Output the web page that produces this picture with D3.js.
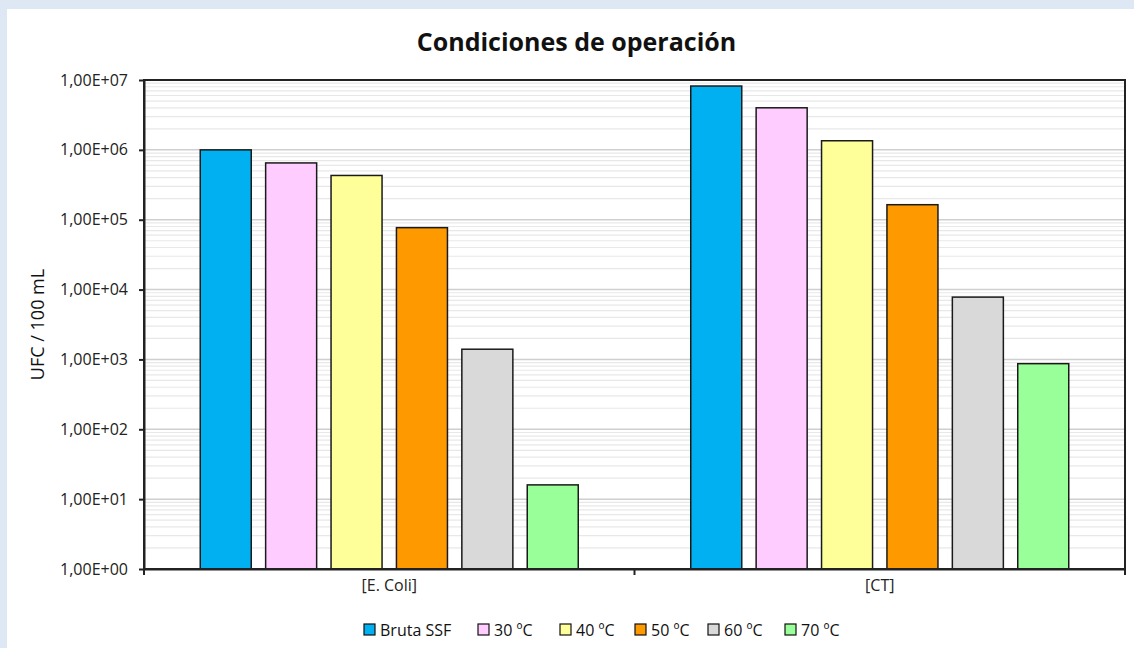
<!DOCTYPE html>
<html>
<head>
<meta charset="utf-8">
<script src="https://cdn.jsdelivr.net/npm/d3@7"></script>
<style>
  body { margin: 0; background: #dde8f4; }
  svg { display: block; font-family: "Open Sans", "DejaVu Sans", sans-serif; }
</style>
</head>
<body>
<div id="chart"></div>
<script>
// data
var categories = ["[E. Coli]", "[CT]"];
var series = ["Bruta SSF", "30 ºC", "40 ºC", "50 ºC", "60 ºC", "70 ºC"];
var colors = ["#00b0f0", "#ffccff", "#ffff99", "#ff9900", "#d9d9d9", "#99ff99"];
var ecoli = [1.0e6, 6.5e5, 4.3e5, 7.7e4, 1.4e3, 16];
var ct = [8.2e6, 4.0e6, 1.35e6, 1.64e5, 7.8e3, 870];
var values = [ecoli, ct];
var yTicks = [1, 1e1, 1e2, 1e3, 1e4, 1e5, 1e6, 1e7];

var W = 1134, H = 648;
var m = { left: 144, top: 80, right: 1125, bottom: 569 };

var svg = d3.select("#chart").append("svg")
  .attr("width", W)
  .attr("height", H);

// white panel
svg.append("rect")
  .attr("x", 7).attr("y", 9)
  .attr("width", W - 7).attr("height", H - 9)
  .attr("fill", "#fff");

var x0 = d3.scaleBand().domain(categories).range([m.left, m.right]);
var x1 = d3.scaleBand().domain(series)
  .range([0, x0.bandwidth()])
  .paddingInner(0.22).paddingOuter(0.86);
var y = d3.scaleLog().domain([1, 1e7]).range([m.bottom, m.top]);

// minor grid
var minor = [];
for (var d = 0; d < 7; d++) {
  for (var k = 2; k <= 9; k++) minor.push(k * Math.pow(10, d));
}
svg.append("g").selectAll("line").data(minor).join("line")
  .attr("x1", m.left).attr("x2", m.right)
  .attr("y1", function(v) { return y(v); })
  .attr("y2", function(v) { return y(v); })
  .attr("stroke", "#e8e8e8").attr("stroke-width", 1.2);

svg.append("g").selectAll("line").data(yTicks.slice(1, -1)).join("line")
  .attr("x1", m.left).attr("x2", m.right)
  .attr("y1", function(v) { return y(v); })
  .attr("y2", function(v) { return y(v); })
  .attr("stroke", "#cfcfcf").attr("stroke-width", 1.5);

// bars
var groups = svg.append("g").selectAll("g").data(categories).join("g")
  .attr("transform", function(c) { return "translate(" + x0(c) + ",0)"; });

groups.selectAll("rect")
  .data(function(c, i) { return values[i].map(function(v, j) { return { s: series[j], v: v, c: colors[j] }; }); })
  .join("rect")
  .attr("x", function(d) { return x1(d.s); })
  .attr("width", x1.bandwidth())
  .attr("y", function(d) { return y(d.v); })
  .attr("height", function(d) { return m.bottom - y(d.v); })
  .attr("fill", function(d) { return d.c; })
  .attr("stroke", "#1a1a1a").attr("stroke-width", 1.5);

// plot frame
svg.append("rect")
  .attr("x", m.left).attr("y", m.top)
  .attr("width", m.right - m.left).attr("height", m.bottom - m.top)
  .attr("fill", "none").attr("stroke", "#222").attr("stroke-width", 2);

// y axis
var fmt = function(v) {
  var e = Math.round(Math.log10(v));
  return "1,00E+" + (e < 10 ? "0" : "") + e;
};
var yAxis = svg.append("g")
  .attr("transform", "translate(" + m.left + ",0)")
  .call(d3.axisLeft(y).tickValues(yTicks).tickFormat(fmt).tickSize(5).tickSizeOuter(0))
  .attr("font-family", "Open Sans, sans-serif").attr("font-size", 16);
yAxis.select(".domain").attr("stroke", "#222").attr("stroke-width", 2);
yAxis.selectAll(".tick line").attr("stroke", "#222").attr("stroke-width", 2);
yAxis.selectAll("text").attr("fill", "#222").attr("dx", -8);

// x axis
var xAxis = svg.append("g")
  .attr("transform", "translate(0," + m.bottom + ")")
  .call(d3.axisBottom(x0).tickSize(0))
  .attr("font-family", "Open Sans, sans-serif").attr("font-size", 16);
xAxis.select(".domain").attr("stroke", "#222").attr("stroke-width", 2);
xAxis.selectAll("text").attr("fill", "#222").attr("dy", "1.2em");
svg.append("g").selectAll("line").data([m.left, (m.left + m.right) / 2, m.right]).join("line")
  .attr("x1", function(d) { return d; }).attr("x2", function(d) { return d; })
  .attr("y1", m.bottom).attr("y2", m.bottom + 6)
  .attr("stroke", "#222").attr("stroke-width", 2);

// title
svg.append("text")
  .attr("x", (m.left + m.right) / 2 - 58).attr("y", 51)
  .attr("text-anchor", "middle")
  .attr("font-size", 25).attr("font-weight", "bold").attr("fill", "#111")
  .text("Condiciones de operación");

// y label
svg.append("text")
  .attr("transform", "translate(44," + ((m.top + m.bottom) / 2) + ") rotate(-90)")
  .attr("text-anchor", "middle")
  .attr("font-size", 18).attr("fill", "#111")
  .text("UFC / 100 mL");

// legend
var legX = [364, 478, 560, 635, 708, 785];
var leg = svg.append("g").selectAll("g").data(series).join("g")
  .attr("transform", function(d, i) { return "translate(" + legX[i] + ",624)"; });
leg.append("rect")
  .attr("width", 11).attr("height", 11)
  .attr("fill", function(d, i) { return colors[i]; })
  .attr("stroke", "#111").attr("stroke-width", 1.2);
leg.append("text")
  .attr("x", 16).attr("y", 11.5)
  .attr("font-size", 16).attr("fill", "#111")
  .text(function(d) { return d; });
</script>
</body>
</html>
